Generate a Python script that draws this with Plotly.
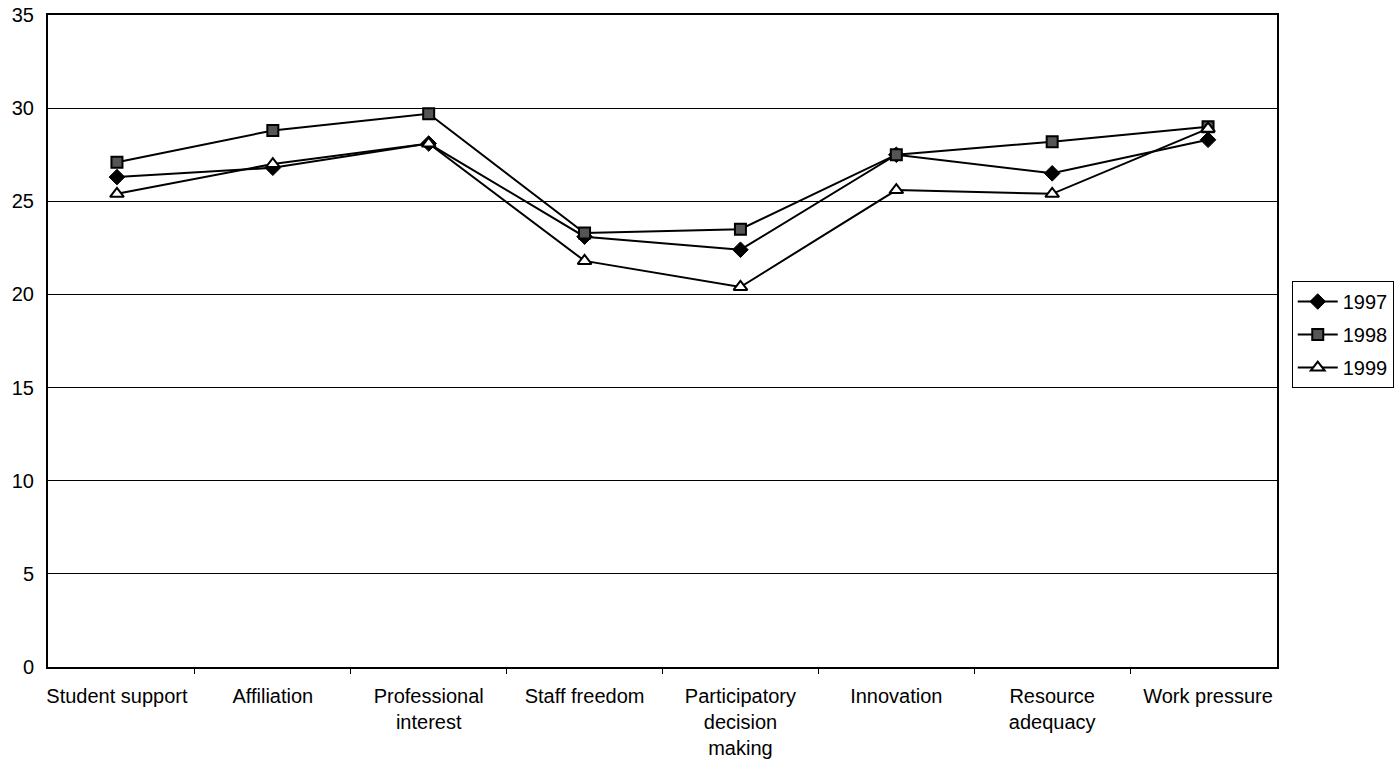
import plotly.graph_objects as go

categories = ["Student support", "Affiliation", "Professional<br>interest", "Staff freedom",
              "Participatory<br>decision<br>making", "Innovation", "Resource<br>adequacy", "Work pressure"]
y1997 = [26.3, 26.8, 28.1, 23.1, 22.4, 27.5, 26.5, 28.3]
y1998 = [27.1, 28.8, 29.7, 23.3, 23.5, 27.5, 28.2, 29.0]
y1999 = [25.4, 27.0, 28.1, 21.8, 20.4, 25.6, 25.4, 28.9]
y_ticks = [0, 5, 10, 15, 20, 25, 30, 35]

font_family = "Liberation Sans, Arial, sans-serif"

fig = go.Figure()
fig.add_trace(go.Scatter(x=categories, y=y1997, name="1997", mode="lines+markers",
                         legendgroup="g1997",
                         line=dict(color="black", width=2),
                         marker=dict(symbol="diamond", size=12, color="black",
                                     line=dict(color="black", width=1))))
fig.add_trace(go.Scatter(x=categories, y=y1998, name="1998", mode="lines+markers",
                         legendgroup="g1998",
                         line=dict(color="black", width=2),
                         marker=dict(symbol="square", size=11, color="#555555",
                                     line=dict(color="black", width=2))))
fig.add_trace(go.Scatter(x=categories, y=y1999, name="1999", mode="lines+markers",
                         legendgroup="g1999",
                         line=dict(color="black", width=2),
                         marker=dict(symbol="triangle-up", size=12, color="white",
                                     line=dict(color="black", width=2))))

fig.update_layout(
    width=1400, height=784,
    margin=dict(l=48, r=123, t=15, b=117, autoexpand=False),
    paper_bgcolor="white", plot_bgcolor="white",
    font=dict(family=font_family, size=20, color="black"),
    showlegend=True,
    legend=dict(x=1.012, y=0.592, xanchor="left", yanchor="top",
                bordercolor="black", borderwidth=1, bgcolor="white",
                font=dict(size=20), tracegroupgap=4, itemwidth=40),
)
fig.update_xaxes(
    type="category", showgrid=False, showline=True, linecolor="black", linewidth=2,
    mirror=True, ticks="outside", tickson="boundaries", ticklen=5, tickcolor="black",
    tickfont=dict(size=20), zeroline=False, automargin=False, ticklabelstandoff=10,
)
fig.update_yaxes(
    range=[0, 35], tickvals=y_ticks, showgrid=True, gridcolor="black", gridwidth=1,
    showline=True, linecolor="black", linewidth=2, mirror=True, ticks="",
    tickfont=dict(size=20), zeroline=False, ticklabelstandoff=8, automargin=False,
)

fig.write_html("out.html")
